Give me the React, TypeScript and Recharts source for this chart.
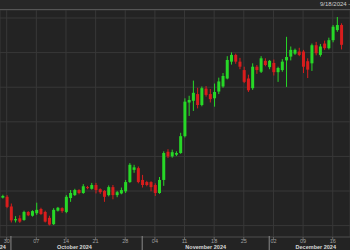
import { ComposedChart, Bar, XAxis, YAxis, CartesianGrid } from "recharts";

// daily candles, prices in thousands of USD
const dates = [
  "2024-09-29", "2024-09-30", "2024-10-01", "2024-10-02", "2024-10-03", "2024-10-04", "2024-10-05",
  "2024-10-06", "2024-10-07", "2024-10-08", "2024-10-09", "2024-10-10", "2024-10-11", "2024-10-12",
  "2024-10-13", "2024-10-14", "2024-10-15", "2024-10-16", "2024-10-17", "2024-10-18", "2024-10-19",
  "2024-10-20", "2024-10-21", "2024-10-22", "2024-10-23", "2024-10-24", "2024-10-25", "2024-10-26",
  "2024-10-27", "2024-10-28", "2024-10-29", "2024-10-30", "2024-10-31", "2024-11-01", "2024-11-02",
  "2024-11-03", "2024-11-04", "2024-11-05", "2024-11-06", "2024-11-07", "2024-11-08", "2024-11-09",
  "2024-11-10", "2024-11-11", "2024-11-12", "2024-11-13", "2024-11-14", "2024-11-15", "2024-11-16",
  "2024-11-17", "2024-11-18", "2024-11-19", "2024-11-20", "2024-11-21", "2024-11-22", "2024-11-23",
  "2024-11-24", "2024-11-25", "2024-11-26", "2024-11-27", "2024-11-28", "2024-11-29", "2024-11-30",
  "2024-12-01", "2024-12-02", "2024-12-03", "2024-12-04", "2024-12-05", "2024-12-06", "2024-12-07",
  "2024-12-08", "2024-12-09", "2024-12-10", "2024-12-11", "2024-12-12", "2024-12-13", "2024-12-14",
  "2024-12-15", "2024-12-16", "2024-12-17", "2024-12-18",
];
const opens = [
  65.4, 65.6, 63.3, 60.0, 60.5, 60.1, 62.0, 61.1, 61.7, 62.7, 62.0, 60.6, 59.1, 62.3,
  62.9, 62.0, 65.3, 66.0, 67.2, 66.5, 67.9, 67.5, 68.4, 67.4, 67.0, 66.0, 67.9, 66.0,
  66.4, 66.9, 69.1, 72.0, 72.4, 69.6, 69.1, 69.1, 68.4, 66.5, 69.6, 76.3, 75.2, 75.6,
  76.0, 80.0, 88.0, 88.4, 90.0, 87.4, 91.3, 90.0, 89.0, 90.6, 91.8, 93.7, 97.7, 99.3,
  97.7, 95.7, 93.7, 91.4, 96.5, 95.3, 97.9, 96.4, 97.4, 95.2, 95.7, 98.0, 98.9, 99.6,
  100.1, 100.1, 97.8, 97.3, 101.6, 99.3, 102.0, 100.9, 102.8, 105.2, 106.4,
];
const highs = [
  66.1, 66.0, 64.0, 61.0, 61.2, 62.3, 62.2, 62.4, 64.2, 63.0, 62.3, 61.1, 62.9, 63.2,
  63.1, 66.0, 67.2, 67.5, 67.4, 68.6, 68.2, 68.9, 68.9, 67.6, 67.2, 68.3, 68.4, 67.0,
  67.8, 69.6, 73.6, 73.2, 72.8, 70.8, 69.4, 69.3, 68.8, 70.3, 76.4, 76.9, 76.8, 76.4,
  80.8, 89.0, 89.6, 93.2, 91.5, 91.8, 91.9, 91.2, 92.5, 93.9, 95.0, 99.0, 99.9, 99.6,
  98.6, 96.5, 94.6, 97.3, 96.9, 99.0, 98.5, 98.1, 98.2, 96.5, 98.3, 103.6, 101.3, 100.8,
  101.0, 100.5, 98.5, 102.0, 102.4, 101.9, 102.7, 103.4, 106.4, 108.3, 106.8,
];
const lows = [
  65.2, 62.9, 59.5, 59.5, 59.4, 59.9, 61.0, 60.9, 61.3, 61.3, 59.5, 58.8, 58.9, 62.1,
  61.8, 61.7, 64.4, 65.8, 66.2, 66.3, 67.4, 67.3, 66.4, 66.3, 64.4, 65.7, 65.0, 65.5,
  66.2, 66.5, 68.9, 71.3, 68.8, 67.8, 68.1, 66.9, 65.8, 66.3, 68.2, 74.8, 74.9, 75.3,
  75.8, 79.7, 84.8, 86.0, 86.6, 87.1, 89.4, 88.0, 87.0, 90.0, 91.5, 93.5, 97.0, 97.2,
  95.9, 92.6, 90.5, 91.0, 94.8, 95.0, 96.6, 95.9, 94.4, 92.9, 95.3, 91.7, 98.0, 99.3,
  99.0, 95.0, 93.8, 95.5, 99.2, 98.9, 100.5, 100.6, 102.3, 104.8, 100.6,
];
const closes = [
  65.8, 63.2, 60.0, 60.3, 59.7, 62.0, 61.2, 62.2, 62.5, 61.5, 59.7, 59.0, 62.5, 63.0,
  62.2, 65.6, 66.5, 67.2, 66.5, 68.1, 67.7, 68.4, 67.2, 66.7, 65.6, 67.9, 66.0, 66.7,
  67.2, 69.1, 73.2, 72.6, 69.1, 68.4, 68.4, 67.9, 66.5, 69.6, 76.0, 75.2, 76.2, 76.0,
  80.0, 88.2, 88.6, 90.3, 87.4, 91.4, 89.8, 88.8, 90.5, 93.0, 94.3, 98.1, 99.3, 97.7,
  96.5, 92.9, 90.9, 96.5, 95.7, 98.5, 96.9, 97.9, 95.2, 96.2, 97.7, 98.8, 100.5, 100.5,
  99.3, 96.5, 95.8, 101.6, 99.7, 101.3, 100.9, 102.8, 106.0, 106.4, 101.7,
];

const weekTicks = [
  "2024-09-30", "2024-10-07", "2024-10-14", "2024-10-21", "2024-10-28", "2024-11-04",
  "2024-11-11", "2024-11-18", "2024-11-25", "2024-12-02", "2024-12-09", "2024-12-16",
];
const monthStarts = ["2024-10-01", "2024-11-01", "2024-12-01"];
const monthLabelDays = ["2024-10-16", "2024-11-16", "2024-12-12"];
const monthLabels = ["September 2024", "October 2024", "November 2024", "December 2024"];
const priceGrid = [58.76, 62.87, 66.98, 71.09, 75.19, 79.3, 83.41, 87.52, 91.63, 95.74, 99.85, 103.96, 108.07];
const headerText = "9/18/2024 -";

const GREEN = "#27d827";
const RED = "#d81d1d";
const FONT = "'Liberation Sans', Arial, sans-serif";

const BASE = Date.parse("2024-09-30");
const dayIndex = (d: string) => Math.round((Date.parse(d) - BASE) / 86400000);

const data = dates.map((d, i) => ({
  day: dayIndex(d),
  open: opens[i],
  high: highs[i],
  low: lows[i],
  close: closes[i],
  range: [lows[i], highs[i]],
}));

const weekIdx = weekTicks.map(dayIndex);
const weekLabel: Record<number, string> = {};
weekTicks.forEach((d) => (weekLabel[dayIndex(d)] = d.slice(8)));
const monthStartIdx = monthStarts.map(dayIndex);
const monthLabelIdx = monthLabelDays.map(dayIndex);

const X_DOMAIN = [-1.582, 81.08];

function Candle(props: any) {
  const { x, y, width, height, payload } = props;
  const { open, close, high, low } = payload;
  const color = close >= open ? GREEN : RED;
  const h = Math.abs(height);
  const top = Math.min(y, y + height);
  const k = h / (high - low || 1);
  const yOf = (v: number) => top + (high - v) * k;
  const cx = x + width / 2;
  const bTop = yOf(Math.max(open, close));
  const bH = Math.max(1, Math.abs(yOf(open) - yOf(close)));
  return (
    <g>
      <line x1={cx} x2={cx} y1={top} y2={top + h} stroke={color} strokeWidth={1} />
      <rect x={x} y={bTop} width={width} height={bH} fill={color} />
    </g>
  );
}

function DayTick({ x, y, payload }: any) {
  return (
    <text x={x} y={y} dy={2.6} textAnchor="middle" fill="#a0a0a0" fontSize={5.5} fontFamily={FONT}>
      {weekLabel[payload.value]}
    </text>
  );
}

function MonthTick({ x, y, payload }: any) {
  const v = payload.value;
  const s = monthStartIdx.indexOf(v);
  if (s >= 0) {
    return (
      <g>
        <line x1={x} x2={x} y1={y - 8} y2={y + 7} stroke="#8a8a8a" strokeWidth={1} />
        {s === 0 && (
          <text x={x - 5} y={y} dy={4.8} textAnchor="end" fill="#d8d8d8" fontSize={5.5} fontWeight="bold" fontFamily={FONT}>
            {monthLabels[0]}
          </text>
        )}
      </g>
    );
  }
  const li = monthLabelIdx.indexOf(v);
  return (
    <text x={x} y={y} dy={4.8} textAnchor="middle" fill="#d8d8d8" fontSize={5.5} fontWeight="bold" fontFamily={FONT}>
      {monthLabels[li + 1]}
    </text>
  );
}

export default function App() {
  return (
    <div style={{ position: "absolute", left: 0, top: 0, width: 350, height: 250, background: "#232323", overflow: "hidden" }}>
      <ComposedChart width={350} height={250} data={data} margin={{ top: 10, right: 0, bottom: 0, left: 0 }}>
        <CartesianGrid stroke="#383838" strokeWidth={1} />
        <XAxis
          dataKey="day"
          type="number"
          domain={X_DOMAIN}
          allowDataOverflow
          ticks={weekIdx}
          interval={0}
          height={7}
          tickSize={3}
          tickMargin={0}
          axisLine={{ stroke: "#444" }}
          tickLine={{ stroke: "#666" }}
          tick={<DayTick />}
        />
        <XAxis
          xAxisId="m"
          dataKey="day"
          type="number"
          domain={X_DOMAIN}
          allowDataOverflow
          ticks={[...monthStartIdx, ...monthLabelIdx]}
          interval={0}
          height={6}
          tickSize={0}
          tickMargin={0}
          axisLine={false}
          tickLine={false}
          tick={<MonthTick />}
        />
        <YAxis hide domain={[56.05, 109.97]} ticks={priceGrid} allowDataOverflow />
        <Bar dataKey="range" barSize={3} shape={<Candle />} isAnimationActive={false} />
      </ComposedChart>
      <div
        style={{
          position: "absolute",
          left: 0,
          top: 0,
          width: 350,
          height: 10,
          background: "#272727",
          borderBottom: "1px solid #555",
          boxSizing: "border-box",
        }}
      >
        <span
          style={{
            position: "absolute",
            left: 320,
            top: 1,
            fontSize: 6,
            lineHeight: "6px",
            color: "#cfcfcf",
            whiteSpace: "nowrap",
            fontFamily: FONT,
          }}
        >
          {headerText}
        </span>
      </div>
    </div>
  );
}
